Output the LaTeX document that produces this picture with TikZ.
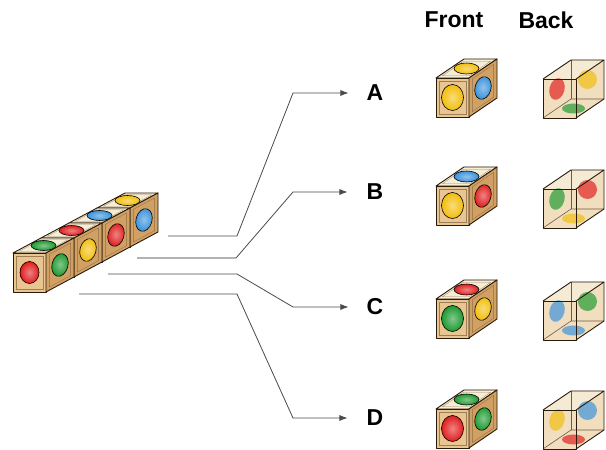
\documentclass[tikz,border=0pt]{standalone}
\usepackage{fontspec}
\setmainfont{Liberation Sans}
\usetikzlibrary{arrows.meta}
\definecolor{woodfront}{HTML}{E8C591}
\definecolor{woodside}{HTML}{D0A064}
\definecolor{woodtop}{HTML}{F6EDD5}
\definecolor{edgec}{HTML}{2A1A0A}
\definecolor{cred}{HTML}{E01E1E}
\definecolor{cgreen}{HTML}{1E9A30}
\definecolor{cblue}{HTML}{3A92DA}
\definecolor{cyellow}{HTML}{F2BE0C}
\definecolor{glass}{HTML}{EBD3AA}
\definecolor{glasstop}{HTML}{F7EEDA}
\definecolor{conncol}{HTML}{4A4A4A}
\tikzset{
  face/.style={draw=edgec, line width=0.9pt, line join=round},
  inset/.style={draw=edgec!60!woodside, line width=0.35pt, opacity=0.6},
  spot/.style={draw=black, line width=0.6pt, inner color=#1!55!white, outer color=#1},
  gspot/.style={fill=#1, fill opacity=0.68, draw=none},
  glassfill/.style={fill=glass, fill opacity=0.75},
  glasstopfill/.style={fill=glasstop, fill opacity=0.8},
  hidden/.style={draw=edgec!65!glass, line width=0.6pt},
  conn/.style={draw=conncol, line width=0.8pt},
  connlight/.style={draw=black!30, line width=1.6pt},
  arr/.style={-{Latex[length=8pt,width=6pt]}},
  lbl/.style={font=\fontsize{23}{25}\selectfont\bfseries, inner sep=0pt},
}
% cube dimensions and oval radii
\def\cw{33}\def\ch{39}\def\cdx{28}\def\cdy{19}
\def\frx{11}\def\fry{13}\def\trx{12.5}\def\try{5.5}\def\srx{8}\def\sry{11.5}
\newcommand\woodcube[5]{%
 \begin{scope}[shift={(#1,#2)}]
  \filldraw[face, fill=woodfront] (0,0) rectangle (\cw,\ch);
  \draw[inset] ({0.09*\cw},{0.08*\ch}) rectangle ({0.91*\cw},{0.92*\ch});
  \begin{scope}[shift={({\cw/2},{\ch/2})}]
    \shadedraw[spot=#3] (0,0) ellipse [x radius=\frx, y radius=\fry];
  \end{scope}
  \filldraw[face, fill=woodtop] (0,\ch) -- (\cw,\ch) -- ++(\cdx,\cdy) -- ++(-\cw,0) -- cycle;
  \begin{scope}[shift={(0,\ch)}, x={(\cw pt,0pt)}, y={(\cdx pt,\cdy pt)}]
    \draw[inset] (0.09,0.12) -- (0.91,0.12) -- (0.91,0.88) -- (0.09,0.88) -- cycle;
  \end{scope}
  \begin{scope}[shift={({\cw/2+\cdx/2},{\ch+\cdy/2})}]
    \shadedraw[spot=#4] (0,0) ellipse [x radius=\trx, y radius=\try];
  \end{scope}
  \filldraw[face, fill=woodside] (\cw,0) -- ++(\cdx,\cdy) -- ++(0,\ch) -- (\cw,\ch) -- cycle;
  \begin{scope}[shift={(\cw,0)}, x={(\cdx pt,\cdy pt)}, y={(0pt,\ch pt)}]
    \draw[inset] (0.12,0.08) -- (0.88,0.08) -- (0.88,0.92) -- (0.12,0.92) -- cycle;
  \end{scope}
  \begin{scope}[shift={({\cw+\cdx/2},{\ch/2+\cdy/2})}, rotate=-15]
    \shadedraw[spot=#5] (0,0) ellipse [x radius=\srx, y radius=\sry];
  \end{scope}
 \end{scope}}
\newcommand\glasscube[5]{%
 \begin{scope}[shift={(#1,#2)}]
  \path[glassfill] (0,0) -- (\cw,0) -- ++(\cdx,\cdy) -- ++(0,\ch) -- ++(-\cw,0) -- ++(-\cdx,-\cdy) -- cycle;
  \path[glasstopfill] (0,\ch) -- (\cw,\ch) -- ++(\cdx,\cdy) -- ++(-\cw,0) -- cycle;
  % left face
  \begin{scope}[shift={({\cdx/2},{\ch/2+\cdy/2})}, rotate=-15]
    \path[gspot=#3] (0,0) ellipse [x radius=7.5, y radius=11];
  \end{scope}
  % back face
  \begin{scope}[shift={({\cdx+\cw/2},{\cdy+\ch/2})}]
    \path[gspot=#4] (0,0) ellipse [x radius=9.5, y radius=9.5];
  \end{scope}
  % bottom face
  \begin{scope}[shift={({\cw/2+\cdx/2},{\cdy/2})}]
    \path[gspot=#5] (0,0) ellipse [x radius=11.5, y radius=5];
  \end{scope}
  \draw[hidden] (0,0) -- (\cdx,\cdy) -- ++(\cw,0);
  \draw[hidden] (\cdx,\cdy) -- ++(0,\ch);
  \draw[face] (0,0) rectangle (\cw,\ch);
  \draw[face] (0,\ch) -- ++(\cdx,\cdy) -- ++(\cw,0) -- (\cw,\ch);
  \draw[face] (\cw,0) -- ++(\cdx,\cdy) -- ++(0,\ch);
 \end{scope}}
\begin{document}
\begin{tikzpicture}[x=1pt,y=1pt]
\useasboundingbox (0,0) rectangle (606,450);
\fill[white] (0,0) rectangle (606,450);
% rod of four cubes
\begin{scope}
 \def\cw{33}\def\ch{39}\def\cdx{28}\def\cdy{15}
 \def\frx{9.5}\def\fry{11}\def\trx{12.5}\def\try{5}\def\srx{8}\def\sry{11.5}
 \woodcube{97}{203}{cyellow}{cyellow}{cblue}
 \woodcube{69}{188}{cblue}{cblue}{cred}
 \woodcube{41}{173}{cred}{cred}{cyellow}
 \woodcube{13}{158}{cred}{cgreen}{cgreen}
\end{scope}
% headers
\node[lbl] (front) at (454,430) {Front};
\node[lbl] (back) at (546,430) {Back};
% labels
\node[lbl] (A) at (375,357) {A};
\node[lbl] (B) at (375,258) {B};
\node[lbl] (C) at (375,143) {C};
\node[lbl] (D) at (375,32) {D};
% connectors
\coordinate (sA) at (168,214); \coordinate (kA1) at (237,214); \coordinate (kA2) at (293,357);
\coordinate (sB) at (137,192); \coordinate (kB1) at (236,192); \coordinate (kB2) at (293,258);
\coordinate (sC) at (108,176); \coordinate (kC1) at (237,176); \coordinate (kC2) at (293,143);
\coordinate (sD) at (79,156);  \coordinate (kD1) at (237,156); \coordinate (kD2) at (293,32);
\draw[conn, arr] (sA) -- (kA1) -- (kA2) -- ([xshift=-18pt]A.west |- kA2);
\draw[connlight] (sB) -- (kB1);
\draw[conn, arr] (kB1) -- (kB2) -- ([xshift=-19pt]B.west |- kB2);
\draw[conn, arr] (sC) -- (kC1) -- (kC2) -- ([xshift=-18pt]C.west |- kC2);
\draw[conn, arr] (sD) -- (kD1) -- (kD2) -- ([xshift=-19pt]D.west |- kD2);
% front cubes
\woodcube{436}{333}{cyellow}{cyellow}{cblue}
\woodcube{436}{225}{cyellow}{cblue}{cred}
\woodcube{436}{112}{cgreen}{cred}{cyellow}
\woodcube{436}{2}{cred}{cgreen}{cgreen}
% back cubes
\glasscube{543}{332}{cred}{cyellow}{cgreen}
\glasscube{543}{222}{cgreen}{cred}{cyellow}
\glasscube{543}{110}{cblue}{cgreen}{cblue}
\glasscube{543}{1}{cyellow}{cblue}{cred}
\end{tikzpicture}
\end{document}
